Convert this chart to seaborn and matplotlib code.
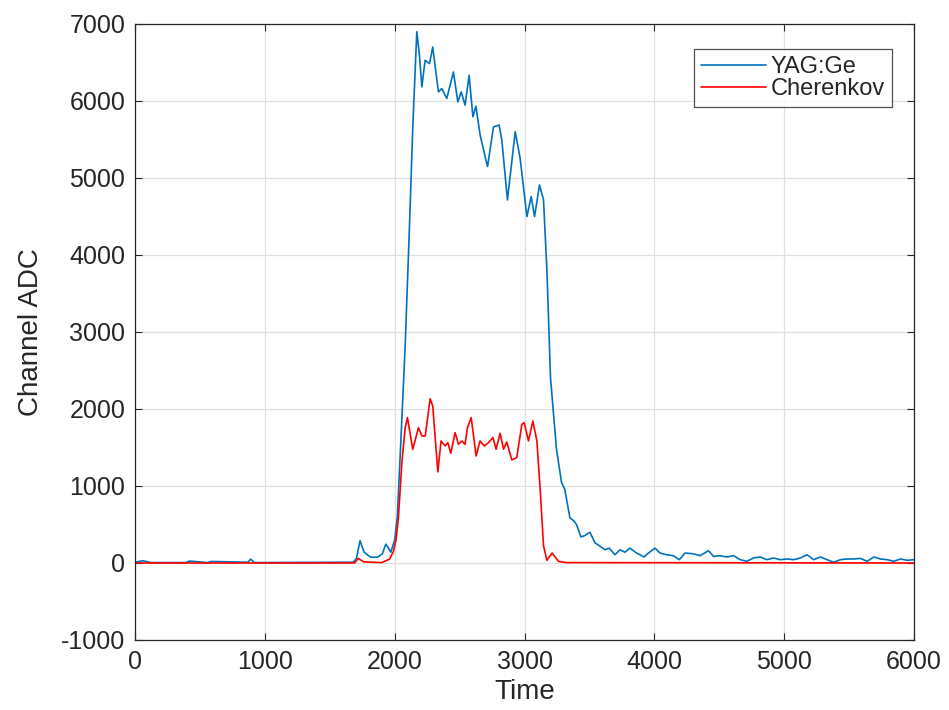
import matplotlib
matplotlib.use("Agg")
import matplotlib.pyplot as plt
import seaborn as sns
import pandas as pd

# ---- data ----
yag_x = [0, 60, 120, 390, 420, 560, 590, 870, 890, 920, 1680, 1705, 1733, 1764, 1815,
         1867, 1905, 1931, 1950, 1970, 2000, 2020, 2045, 2080, 2110, 2140, 2170, 2190,
         2209, 2234, 2268, 2293, 2315, 2337, 2363, 2401, 2452, 2486, 2512, 2542, 2573,
         2602, 2625, 2658, 2700, 2715, 2761, 2804, 2825, 2868, 2928, 2966, 3018, 3051,
         3077, 3115, 3146, 3172, 3200, 3246, 3285, 3310, 3349, 3380, 3400, 3434, 3465,
         3503, 3542, 3580, 3619, 3652, 3696, 3735, 3773, 3812, 3863, 3920, 3954, 4005,
         4043, 4095, 4146, 4192, 4236, 4300, 4352, 4416, 4455, 4506, 4558, 4609, 4661,
         4712, 4764, 4815, 4867, 4918, 4970, 5021, 5073, 5124, 5175, 5227, 5278, 5330,
         5381, 5433, 5484, 5536, 5587, 5639, 5690, 5741, 5793, 5844, 5896, 5947, 6000]
yag_y = [10, 30, 5, 5, 25, 5, 20, 10, 50, 5, 10, 60, 290, 140, 75,
         75, 120, 245, 200, 140, 300, 600, 1500, 2800, 4200, 5700, 6900, 6600,
         6183, 6528, 6486, 6701, 6400, 6118, 6162, 6033, 6377, 5988, 6118, 5946, 6334,
         5795, 5933, 5557, 5250, 5150, 5665, 5687, 5492, 4715, 5600, 5255, 4499, 4758,
         4499, 4909, 4715, 3808, 2400, 1476, 1044, 955, 588, 545, 500, 339, 356,
         400, 262, 220, 172, 193, 107, 172, 140, 193, 129, 78, 129, 193,
         129, 107, 95, 43, 129, 120, 95, 160, 86, 95, 78, 95, 43,
         22, 65, 78, 43, 65, 43, 52, 43, 65, 107, 43, 78, 43,
         10, 43, 52, 52, 60, 22, 78, 52, 43, 22, 52, 35, 43]

cher_x = [0, 1690, 1720, 1760, 1900, 1960, 1990, 2010, 2029, 2055, 2080, 2098, 2139,
          2183, 2209, 2235, 2273, 2293, 2332, 2357, 2388, 2409, 2432, 2465, 2491, 2517,
          2542, 2560, 2589, 2627, 2657, 2689, 2722, 2756, 2781, 2812, 2838, 2863, 2902,
          2940, 2979, 2997, 3030, 3064, 3095, 3120, 3146, 3172, 3212, 3262, 3326, 6000]
cher_y = [0, 0, 60, 15, 5, 50, 150, 300, 600, 1300, 1750, 1888, 1477,
          1758, 1650, 1650, 2133, 2038, 1183, 1585, 1520, 1563, 1425, 1693, 1541, 1585,
          1541, 1758, 1888, 1390, 1585, 1520, 1563, 1628, 1477, 1684, 1477, 1572, 1338,
          1368, 1801, 1823, 1585, 1844, 1585, 960, 225, 35, 130, 20, 5, 0]

x_ticks = [0, 1000, 2000, 3000, 4000, 5000, 6000]
y_ticks = [-1000, 0, 1000, 2000, 3000, 4000, 5000, 6000, 7000]

sns.set_theme(style="white")
plt.rcParams['font.family'] = ['Liberation Sans', 'DejaVu Sans']

fig = plt.figure(figsize=(9.49, 7.10), dpi=100)
ax = fig.add_axes([0.1423, 0.0986, 0.8209, 0.8676])

df_yag = pd.DataFrame({"Time": yag_x, "ADC": yag_y})
df_ch = pd.DataFrame({"Time": cher_x, "ADC": cher_y})
sns.lineplot(data=df_yag, x="Time", y="ADC", ax=ax, color="#0072BD", lw=1.2,
             label="YAG:Ge", estimator=None, sort=False)
sns.lineplot(data=df_ch, x="Time", y="ADC", ax=ax, color="#FF0000", lw=1.2,
             label="Cherenkov", estimator=None, sort=False)

ax.set_xlim(0, 6000)
ax.set_ylim(-1000, 7000)
ax.set_xticks(x_ticks)
ax.set_yticks(y_ticks)
ax.set_xticklabels([str(v) for v in x_ticks], fontsize=18, color="#262626")
ax.set_yticklabels([str(v) for v in y_ticks], fontsize=18, color="#262626")
ax.set_xlabel("Time", fontsize=20, color="#262626", labelpad=4)
ax.set_ylabel("Channel ADC", fontsize=20, color="#262626", labelpad=12)

ax.grid(True, color="#e0e0e0", lw=0.9)
ax.tick_params(direction="in", length=5, width=0.8, top=True, right=True,
               bottom=True, left=True, color="#262626", pad=7)
for s in ax.spines.values():
    s.set_visible(True)
    s.set_color("#262626")
    s.set_linewidth(0.9)

leg = ax.legend(loc="upper right", bbox_to_anchor=(0.9717, 0.9595), fontsize=17,
                frameon=True, fancybox=False, handlelength=2.75, handletextpad=0.2,
                borderpad=0.3, labelspacing=0.0, borderaxespad=0.0)
leg.get_frame().set_edgecolor("#262626")
leg.get_frame().set_linewidth(0.9)

fig.savefig("out.png", dpi=100)
